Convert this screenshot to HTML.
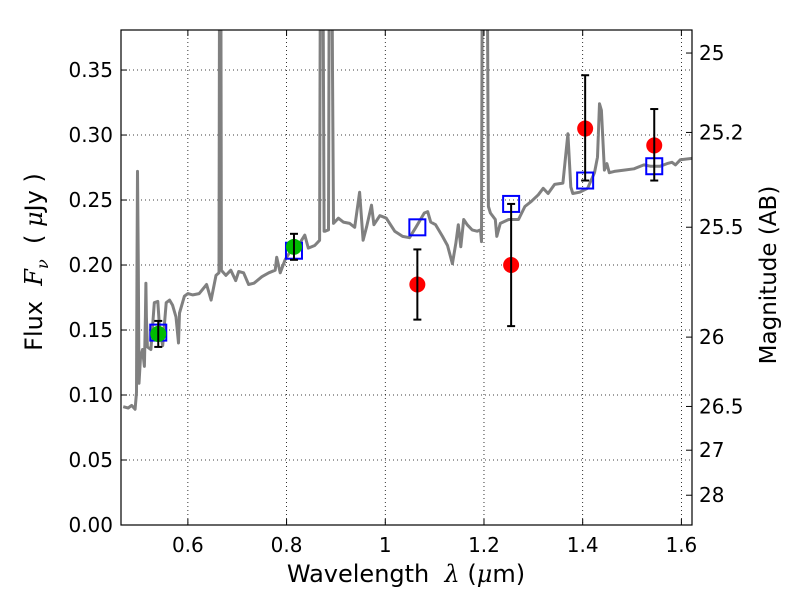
<!DOCTYPE html>
<html><head><meta charset="utf-8"><style>
body{margin:0;background:#fff;}
svg{display:block;font-family:"DejaVu Sans","Liberation Sans",sans-serif;}
</style></head><body>
<svg id="chart" width="800" height="600"></svg>
<script>
const specWl=[0.469,0.479,0.486,0.493,0.496,0.497,0.498,0.4995,0.501,0.504,0.508,0.512,0.514,0.515,0.516,0.518,0.525,0.532,0.539,0.543,0.549,0.556,0.563,0.569,0.576,0.581,0.583,0.593,0.600,0.610,0.623,0.638,0.647,0.657,0.663,0.6645,0.6665,0.668,0.670,0.677,0.687,0.697,0.703,0.713,0.723,0.734,0.750,0.764,0.777,0.780,0.787,0.797,0.810,0.827,0.837,0.844,0.857,0.867,0.869,0.873,0.876,0.878,0.885,0.887,0.8885,0.891,0.893,0.895,0.905,0.915,0.928,0.938,0.948,0.955,0.962,0.972,0.977,0.989,1.002,1.019,1.035,1.049,1.062,1.079,1.086,1.092,1.102,1.116,1.126,1.136,1.143,1.148,1.153,1.159,1.166,1.176,1.186,1.193,1.195,1.197,1.199,1.206,1.209,1.213,1.223,1.226,1.233,1.250,1.270,1.283,1.296,1.310,1.320,1.330,1.343,1.360,1.370,1.376,1.380,1.394,1.410,1.424,1.430,1.434,1.438,1.444,1.449,1.454,1.464,1.484,1.504,1.524,1.537,1.557,1.571,1.581,1.588,1.598,1.622];
const specFlux=[0.091,0.090,0.092,0.089,0.102,0.20,0.272,0.20,0.109,0.129,0.135,0.122,0.16,0.186,0.16,0.137,0.135,0.171,0.172,0.150,0.138,0.171,0.173,0.169,0.160,0.140,0.163,0.176,0.178,0.177,0.178,0.185,0.173,0.192,0.194,0.5,0.5,0.196,0.195,0.192,0.196,0.188,0.195,0.194,0.185,0.186,0.191,0.194,0.196,0.206,0.194,0.204,0.212,0.217,0.223,0.213,0.215,0.219,0.5,0.5,0.226,0.226,0.227,0.5,0.5,0.5,0.35,0.232,0.236,0.233,0.232,0.229,0.256,0.219,0.229,0.246,0.231,0.238,0.236,0.226,0.222,0.221,0.229,0.240,0.241,0.233,0.231,0.222,0.215,0.201,0.217,0.231,0.214,0.235,0.231,0.227,0.226,0.227,0.218,0.5,0.5,0.5,0.245,0.240,0.235,0.222,0.232,0.235,0.235,0.245,0.249,0.254,0.259,0.255,0.262,0.263,0.301,0.260,0.255,0.256,0.259,0.271,0.283,0.324,0.319,0.273,0.278,0.271,0.272,0.273,0.274,0.277,0.276,0.276,0.278,0.279,0.277,0.281,0.282];
const greenWl=[0.54,0.815];
const greenFlux=[0.147,0.214];
const greenErr=[0.010,0.010];
const modelWl=[0.54,0.815,1.065,1.255,1.405,1.545];
const modelFlux=[0.148,0.211,0.229,0.247,0.265,0.276];
const redWl=[1.065,1.255,1.405,1.545];
const redFlux=[0.185,0.200,0.305,0.292];
const redLo=[0.158,0.153,0.265,0.265];
const redHi=[0.212,0.247,0.346,0.320];
const xTicks=[0.6,0.8,1.0,1.2,1.4,1.6];
const xTickLabels=["0.6","0.8","1","1.2","1.4","1.6"];
const yTicks=[0,0.05,0.10,0.15,0.20,0.25,0.30,0.35];
const yTickLabels=["0.00","0.05","0.10","0.15","0.20","0.25","0.30","0.35"];
const magTicks=[25,25.2,25.5,26,26.5,27,28];
const magTickLabels=["25","25.2","25.5","26","26.5","27","28"];

const L=121,R=692,T=30,B=525;
const x0=0.4645,x1=1.6215,y0=0,y1=0.3808;
const sx=v=>L+(v-x0)/(x1-x0)*(R-L);
const sy=v=>B-(v-y0)/(y1-y0)*(B-T);
const magToFlux=m=>Math.pow(10,(23.9-m)/2.5);
const svg=document.getElementById('chart');
const NS='http://www.w3.org/2000/svg';
function mk(tag,attrs,parent){const e=document.createElementNS(NS,tag);for(const k in attrs)e.setAttribute(k,attrs[k]);(parent||svg).appendChild(e);return e;}

const defs=mk('defs',{});
const cp=mk('clipPath',{id:'clip'},defs);
mk('rect',{x:L,y:T,width:R-L,height:B-T},cp);

const grid=mk('g',{});


xTicks.forEach(v=>{mk('line',{x1:sx(v),x2:sx(v),y1:T,y2:B,stroke:'#000','stroke-width':0.8,'stroke-dasharray':'1,3'},grid);});
yTicks.forEach(v=>{mk('line',{x1:L,x2:R,y1:sy(v),y2:sy(v),stroke:'#000','stroke-width':0.8,'stroke-dasharray':'1,3'},grid);});

const plot=mk('g',{'clip-path':'url(#clip)'});
let d='';
specWl.forEach((w,i)=>{d+=(i?'L':'M')+sx(w).toFixed(1)+','+sy(specFlux[i]).toFixed(1);});
const sp=mk('path',{d:d,fill:'none',stroke:'#808080','stroke-width':3,'stroke-linejoin':'round'},plot);



modelWl.forEach((w,i)=>{
  const r=mk('rect',{x:sx(w)-8,y:sy(modelFlux[i])-8,width:16,height:16,fill:'none',stroke:'#0000ff','stroke-width':2},plot);
  
  
});
redWl.forEach((w,i)=>{
  const x=sx(w);
  const c=mk('circle',{cx:x,cy:sy(redFlux[i]),r:8,fill:'#ff0000'},plot);
  
  
  const g=mk('g',{stroke:'#000','stroke-width':2},plot);
  
  
  mk('line',{x1:x,x2:x,y1:sy(redLo[i]),y2:sy(redHi[i])},g);
  mk('line',{x1:x-4,x2:x+4,y1:sy(redLo[i]),y2:sy(redLo[i])},g);
  mk('line',{x1:x-4,x2:x+4,y1:sy(redHi[i]),y2:sy(redHi[i])},g);
});
greenWl.forEach((w,i)=>{
  const x=sx(w);
  const c=mk('circle',{cx:x,cy:sy(greenFlux[i]),r:8,fill:'#00bb00'},plot);
  
  
  const lo=greenFlux[i]-greenErr[i],hi=greenFlux[i]+greenErr[i];
  const g=mk('g',{stroke:'#000','stroke-width':2},plot);
  
  
  mk('line',{x1:x,x2:x,y1:sy(lo),y2:sy(hi)},g);
  mk('line',{x1:x-4,x2:x+4,y1:sy(lo),y2:sy(lo)},g);
  mk('line',{x1:x-4,x2:x+4,y1:sy(hi),y2:sy(hi)},g);
});

const fr=mk('rect',{x:L,y:T,width:R-L,height:B-T,fill:'none',stroke:'#000','stroke-width':1.2});



const ax=mk('g',{'font-size':'20px',fill:'#000'});


xTicks.forEach((v,i)=>{
  const x=sx(v);
  mk('line',{x1:x,x2:x,y1:B,y2:B-6,stroke:'#000'},ax);
  mk('line',{x1:x,x2:x,y1:T,y2:T+6,stroke:'#000'},ax);
  const t=mk('text',{x:x,y:B+27,'text-anchor':'middle'},ax);
  t.textContent=xTickLabels[i];
  
  
});
yTicks.forEach((v,i)=>{
  const y=sy(v);
  mk('line',{x1:L,x2:L+6,y1:y,y2:y,stroke:'#000'},ax);
  const t=mk('text',{x:L-8,y:y+7,'text-anchor':'end'},ax);
  t.textContent=yTickLabels[i];
  
  
});
magTicks.forEach((m,i)=>{
  const y=sy(magToFlux(m));
  mk('line',{x1:R,x2:R-6,y1:y,y2:y,stroke:'#000'},ax);
  const t=mk('text',{x:R+7,y:y+7,'text-anchor':'start'},ax);
  t.textContent=magTickLabels[i];
  
  
});
</script>
<div style="position:absolute;left:0;top:0;width:800px;height:600px;pointer-events:none;font-family:'DejaVu Sans','Liberation Sans',sans-serif;">
  <div style="position:absolute;left:406px;top:574px;font-size:24px;white-space:nowrap;transform:translate(-50%,-50%);">Wavelength&nbsp; <i style="font-family:'DejaVu Serif',serif">λ</i> (<i style="font-family:'DejaVu Serif',serif">μ</i>m)</div>
  <div style="position:absolute;left:36px;top:262px;font-size:24px;white-space:nowrap;transform:translate(-50%,-50%) rotate(-90deg);">Flux&nbsp; <i style="font-family:'DejaVu Serif',serif">F<sub style="font-size:16px">ν</sub></i>&nbsp; ( <i style="font-family:'DejaVu Serif',serif">μ</i>Jy )</div>
  <div style="position:absolute;left:769px;top:275px;font-size:23px;white-space:nowrap;transform:translate(-50%,-50%) rotate(-90deg);">Magnitude (AB)</div>
</div>
</body></html>
